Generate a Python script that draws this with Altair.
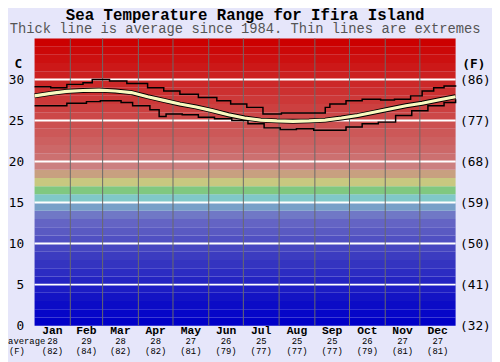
import altair as alt
import pandas as pd

# ---------------- data ----------------
avg_days = [0, 14, 28, 42, 56, 70, 84, 98, 112, 126, 140, 154, 168, 182, 196,
            210, 224, 238, 252, 266, 280, 294, 308, 322, 336, 350, 365]
avg_vals = [28.0, 28.3, 28.55, 28.65, 28.7, 28.6, 28.4, 27.9, 27.45, 27.0, 26.65,
            26.2, 25.7, 25.3, 25.05, 24.95, 24.9, 24.95, 25.05, 25.3, 25.6, 26.0,
            26.4, 26.8, 27.1, 27.5, 27.9]

max_days = [0, 14, 28, 42, 50, 65, 80, 98, 112, 126, 142, 158, 170, 184, 198,
            214, 240, 252, 256, 270, 284, 300, 312, 326, 336, 346, 355, 365]
max_vals = [29.1, 29.0, 29.4, 29.6, 30.0, 29.8, 29.5, 29.0, 28.6, 28.2, 27.8,
            27.4, 27.0, 26.6, 25.8, 25.9, 25.9, 26.6, 27.0, 27.4, 27.6, 27.5,
            27.6, 28.0, 28.6, 29.0, 29.2, 29.3]

min_days = [0, 14, 28, 45, 57, 75, 85, 100, 108, 114, 128, 142, 156, 171, 185,
            199, 213, 227, 242, 256, 270, 284, 298, 313, 327, 341, 355, 365]
min_vals = [26.8, 26.8, 27.1, 27.3, 27.4, 27.2, 26.8, 26.3, 25.5, 25.8, 25.7,
            25.4, 25.2, 25.0, 24.6, 24.1, 23.9, 24.0, 23.8, 23.8, 24.2, 24.6,
            24.8, 25.6, 26.2, 26.8, 27.2, 27.6]

months = ["Jan", "Feb", "Mar", "Apr", "May", "Jun",
          "Jul", "Aug", "Sep", "Oct", "Nov", "Dec"]
month_mid = [15.5, 45, 74.5, 105, 135.5, 166, 196.5, 227.5, 258, 288.5, 319, 349.5]
month_start = [31, 59, 90, 120, 151, 181, 212, 243, 273, 304, 334]
month_avg_c = [28, 29, 28, 28, 27, 26, 25, 25, 25, 26, 27, 27]
month_avg_f = [82, 84, 82, 82, 81, 79, 77, 77, 77, 79, 81, 81]

band_lo = list(range(0, 35))
band_colors = [
    "#0000c8", "#0606c8", "#0c0cc6", "#1414c4", "#1c1cc4", "#2424c2", "#2c2cc2",
    "#3434c0", "#3c3cc0", "#4646c0", "#5050c2", "#5a5ac2", "#6464c4", "#7078c6",
    "#78a0c8", "#80c8c8", "#80c880", "#c8c880", "#c8a080", "#cc8080", "#cc7070",
    "#cc6868", "#cc6060", "#cc5858", "#cc5050", "#cc4848", "#cc4040", "#cc3838",
    "#cc3030", "#cc2828", "#cc2020", "#cc1818", "#cc1010", "#cc0808", "#cc0000",
]
grid_vals = [5, 10, 15, 20, 25, 30]
side_labels = ["average", "(F)"]

# ---------------- tables ----------------
bands = pd.DataFrame({"lo": band_lo, "hi": [v + 1 for v in band_lo], "c": band_colors})
avg_df = pd.DataFrame({"day": avg_days, "t": avg_vals})
max_df = pd.DataFrame({"day": max_days, "t": max_vals})
min_df = pd.DataFrame({"day": min_days, "t": min_vals})
mon_df = pd.DataFrame({"mid": month_mid, "m": months,
                       "c": [str(v) for v in month_avg_c],
                       "f": ["(%d)" % v for v in month_avg_f]})
grid_df = pd.DataFrame({"g": grid_vals})
vline_df = pd.DataFrame({"d": month_start})
lab_df = pd.DataFrame({"t": side_labels})

W, H = 428, 292
MONO = "Liberation Mono"
AXF = "DejaVu Sans Mono"

xs = alt.Scale(domain=[0, 365], nice=False, zero=False)
ys = alt.Scale(domain=[0, 35], nice=False, zero=True)

band_layer = alt.Chart(bands).mark_rect().encode(
    x=alt.value(0), x2=alt.value(W),
    y=alt.Y("lo:Q", scale=ys,
            axis=alt.Axis(values=[0, 5, 10, 15, 20, 25, 30], grid=False, ticks=False,
                          domain=False, labelFont=AXF, labelFontSize=13,
                          labelColor="black", labelPadding=11,
                          title="C", titleAngle=0, titleFont=AXF, titleFontSize=13,
                          titleFontWeight="bold", titleX=-17, titleY=30,
                          titleAlign="center", titleBaseline="alphabetic")),
    y2="hi:Q",
    color=alt.Color("c:N", scale=None),
)

hgrid = alt.Chart(grid_df).mark_rule(color="white", strokeWidth=2).encode(
    y=alt.Y("g:Q", scale=ys), x=alt.value(0), x2=alt.value(W))

vgrid = alt.Chart(vline_df).mark_rule(color="#6a6a6a", strokeWidth=1).encode(
    x=alt.X("d:Q", scale=xs, axis=None), y=alt.value(0), y2=alt.value(H))

max_line = alt.Chart(max_df).mark_line(color="black", strokeWidth=1.5,
                                       interpolate="step-after").encode(
    x=alt.X("day:Q", scale=xs, axis=None), y=alt.Y("t:Q", scale=ys))
min_line = alt.Chart(min_df).mark_line(color="black", strokeWidth=1.5,
                                       interpolate="step-after").encode(
    x=alt.X("day:Q", scale=xs, axis=None), y=alt.Y("t:Q", scale=ys))
avg_out = alt.Chart(avg_df).mark_line(color="black", strokeWidth=5).encode(
    x=alt.X("day:Q", scale=xs, axis=None), y=alt.Y("t:Q", scale=ys))
avg_in = alt.Chart(avg_df).mark_line(color="#fafac0", strokeWidth=3.2).encode(
    x=alt.X("day:Q", scale=xs, axis=None), y=alt.Y("t:Q", scale=ys))

mon_txt = alt.Chart(mon_df).mark_text(font=MONO, fontSize=11.5, fontWeight="bold",
                                      baseline="middle", color="black").encode(
    x=alt.X("mid:Q", scale=xs, axis=None), y=alt.value(H + 5.5), text="m:N")
c_txt = alt.Chart(mon_df).mark_text(font=MONO, fontSize=9, baseline="middle",
                                    color="black").encode(
    x=alt.X("mid:Q", scale=xs, axis=None), y=alt.value(H + 16), text="c:N")
f_txt = alt.Chart(mon_df).mark_text(font=MONO, fontSize=9, baseline="middle",
                                    color="black").encode(
    x=alt.X("mid:Q", scale=xs, axis=None), y=alt.value(H + 25.5), text="f:N")
avg_lab = alt.Chart(lab_df).transform_filter("datum.t == 'average'").mark_text(
    font=MONO, fontSize=9, baseline="middle", color="black").encode(
    x=alt.value(-8), y=alt.value(H + 16), text="t:N")
f_lab = alt.Chart(lab_df).transform_filter("datum.t == '(F)'").mark_text(
    font=MONO, fontSize=9, baseline="middle", color="black").encode(
    x=alt.value(-18), y=alt.value(H + 25.5), text="t:N")

left = alt.layer(band_layer, hgrid, vgrid, max_line, min_line, avg_out, avg_in,
                 mon_txt, c_txt, f_txt, avg_lab, f_lab)

right = alt.Chart(grid_df).mark_point(opacity=0).encode(
    y=alt.Y("g:Q", scale=ys,
            axis=alt.Axis(orient="right", values=[0, 5, 10, 15, 20, 25, 30],
                          labelExpr="'(' + format(datum.value*9/5+32, 'd') + ')'",
                          grid=False, ticks=False, domain=False, labelFont=AXF,
                          labelFontSize=13, labelColor="black", labelPadding=4,
                          title="(F)", titleAngle=0, titleFont=AXF, titleFontSize=13,
                          titleFontWeight="bold", titleX=18, titleY=30,
                          titleAlign="center", titleBaseline="alphabetic")),
    x=alt.value(0),
)

chart = alt.layer(left, right).resolve_scale(y="independent").properties(
    width=W, height=H,
    autosize=alt.AutoSizeParams(type="none"),
    padding={"left": 27, "top": 28, "right": 37, "bottom": 34},
    background="#e6e6fa",
    title=alt.TitleParams(
        text="Sea Temperature Range for Ifira Island",
        subtitle="Thick line is average since 1984. Thin lines are extremes",
        font=MONO, fontSize=16, fontWeight="bold", color="black",
        subtitleFont=MONO, subtitleFontSize=14, subtitleColor="#555555",
        subtitlePadding=-1, anchor="middle", offset=2),
).configure_view(stroke=None)

chart.save("out.html", embed_options={"renderer": "svg", "actions": False})
